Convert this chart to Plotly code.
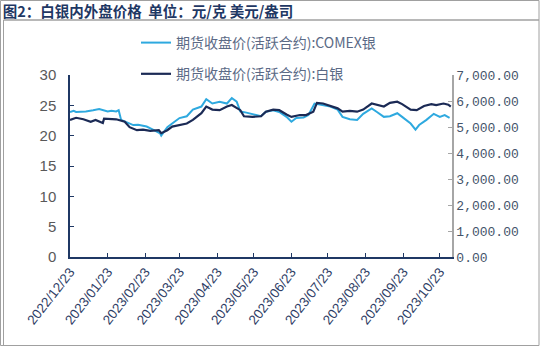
import plotly.graph_objects as go

# COMEX silver (USD/oz) - left axis
comex_dates = ["2022-12-23","2022-12-26","2022-12-28","2023-01-05","2023-01-11","2023-01-16","2023-01-23",
    "2023-01-26","2023-01-30","2023-02-01","2023-02-03","2023-02-07","2023-02-13","2023-02-17","2023-02-24",
    "2023-03-02","2023-03-07","2023-03-08","2023-03-13","2023-03-17","2023-03-23","2023-03-29","2023-04-03",
    "2023-04-10","2023-04-14","2023-04-19","2023-04-25","2023-05-01","2023-05-05","2023-05-09","2023-05-12",
    "2023-05-17","2023-05-22","2023-05-29","2023-06-02","2023-06-08","2023-06-13","2023-06-19","2023-06-23",
    "2023-06-27","2023-07-03","2023-07-07","2023-07-12","2023-07-18","2023-07-25","2023-07-31","2023-08-04",
    "2023-08-10","2023-08-16","2023-08-21","2023-08-28","2023-09-01","2023-09-07","2023-09-12","2023-09-18",
    "2023-09-22","2023-09-29","2023-10-03","2023-10-06","2023-10-12","2023-10-18","2023-10-23","2023-10-27",
    "2023-10-31"]
comex_vals = [23.9,24.1,23.9,24.0,24.2,24.4,24.0,
    24.1,24.0,24.2,22.6,22.3,21.75,21.8,21.5,
    20.9,20.4,20.0,21.4,22.0,22.9,23.2,24.3,
    24.8,26.0,25.3,25.6,25.3,26.2,25.6,24.0,
    23.8,23.5,23.2,23.95,24.2,23.9,23.1,22.3,
    22.9,23.0,23.4,25.3,25.05,24.8,24.3,23.1,
    22.7,22.6,23.6,24.5,23.95,23.1,23.2,23.7,
    23.1,22.0,21.0,21.75,22.6,23.6,23.1,23.4,
    22.95]

# SHFE silver (CNY/kg) - right axis
shfe_dates = ["2022-12-23","2022-12-28","2023-01-03","2023-01-09","2023-01-13","2023-01-19","2023-01-20",
    "2023-01-30","2023-02-06","2023-02-10","2023-02-16","2023-02-21","2023-02-27","2023-03-06","2023-03-08",
    "2023-03-13","2023-03-17","2023-03-23","2023-03-29","2023-04-03","2023-04-10","2023-04-14","2023-04-19",
    "2023-04-25","2023-05-01","2023-05-05","2023-05-12","2023-05-15","2023-05-22","2023-05-29","2023-06-02",
    "2023-06-08","2023-06-13","2023-06-19","2023-06-23","2023-06-30","2023-07-05","2023-07-11","2023-07-14",
    "2023-07-19","2023-07-25","2023-07-31","2023-08-04","2023-08-10","2023-08-16","2023-08-21","2023-08-28",
    "2023-09-01","2023-09-07","2023-09-12","2023-09-18","2023-09-22","2023-09-29","2023-10-04","2023-10-10",
    "2023-10-16","2023-10-20","2023-10-26","2023-10-30","2023-11-01"]
shfe_vals = [5273,5355,5297,5203,5273,5157,5320,
    5297,5203,4993,4877,4900,4853,4877,4760,
    4877,5017,5075,5133,5273,5530,5787,5670,
    5647,5787,5845,5647,5413,5390,5413,5588,
    5670,5647,5483,5390,5460,5460,5588,5927,
    5903,5810,5717,5588,5623,5588,5670,5903,
    5845,5787,5927,5973,5880,5670,5647,5810,
    5880,5845,5903,5857,5787]

names = ["期货收盘价(活跃合约):COMEX银", "期货收盘价(活跃合约):白银"]
x_ticks = ["2022-12-23","2023-01-23","2023-02-23","2023-03-23","2023-04-23","2023-05-23",
           "2023-06-23","2023-07-23","2023-08-23","2023-09-23","2023-10-23"]
x_tick_labels = [d.replace("-", "/") for d in x_ticks]
left_ticks = [0, 5, 10, 15, 20, 25, 30]
right_ticks = [0, 1000, 2000, 3000, 4000, 5000, 6000, 7000]

LIGHT = "#2EA9DF"
DARK = "#1B2A55"

fig = go.Figure()
fig.add_trace(go.Scatter(x=comex_dates, y=comex_vals, name=names[0], mode="lines",
                         line=dict(color=LIGHT, width=2), legendgroup="a"))
fig.add_trace(go.Scatter(x=shfe_dates, y=shfe_vals, name=names[1], mode="lines",
                         line=dict(color=DARK, width=2.2), yaxis="y2", legendgroup="b"))

W, H = 542, 346
L, R, T, B = 70, 452, 75, 257
def px(x): return (x - L) / (R - L)
def py(y): return (B - y) / (B - T)

legfont = dict(family="Noto Sans CJK SC", size=14, color="#5B6A86")
fig.update_layout(
    width=W, height=H,
    margin=dict(l=L, r=W - R, t=T, b=H - B),
    paper_bgcolor="white", plot_bgcolor="white",
    font=dict(family="Liberation Sans", color="#595959"),
    title=dict(text="<b>图2：白银内外盘价格  单位：元/克 美元/盎司</b>",
               x=0.005, xanchor="left", y=1 - 12 / H, yanchor="middle",
               font=dict(family="Noto Sans CJK SC", size=14.5, color="#1F3864")),
    xaxis=dict(type="date", range=["2022-12-23", "2023-11-02"],
               tickvals=x_ticks, ticktext=x_tick_labels, tickangle=-52,
               tickfont=dict(family="Liberation Sans", size=13.5, color="#2F3E66"),
               showgrid=False, zeroline=False, showline=True, linecolor="#1F3864", linewidth=1.5,
               ticks="inside", ticklen=4, tickcolor="#1F3864"),
    yaxis=dict(range=[0, 30], tickvals=left_ticks, showgrid=False, zeroline=False,
               showline=True, linecolor="#1F3864", linewidth=1.5,
               ticks="inside", ticklen=4, tickcolor="#1F3864", ticklabelstandoff=9,
               tickfont=dict(family="Liberation Sans", size=15, color="#595959")),
    yaxis2=dict(range=[0, 7000], tickvals=right_ticks, tickformat=",.2f",
                overlaying="y", side="right", showgrid=False, zeroline=False,
                showline=True, linecolor="#A6A6A6", linewidth=1.5,
                ticks="inside", ticklen=4, tickcolor="#A6A6A6",
                tickfont=dict(family="Liberation Mono", size=13, color="#44546A")),
    legend=dict(x=px(136), y=py(27), xanchor="left", yanchor="top",
                bgcolor="rgba(0,0,0,0)", font=legfont, itemwidth=30,
                traceorder="grouped", tracegroupgap=10),
    shapes=[
        dict(type="rect", xref="paper", yref="paper", x0=px(0.5), x1=px(539), y0=py(0.5), y1=py(345.5),
             line=dict(color="#A0A0A0", width=1)),
        dict(type="line", xref="paper", yref="paper", x0=px(3.5), x1=px(3.5), y0=py(20), y1=py(345.5),
             line=dict(color="#A0A0A0", width=1)),
        dict(type="line", xref="paper", yref="paper", x0=px(3.5), x1=px(539), y0=py(20), y1=py(20),
             line=dict(color="#A0A0A0", width=1.5)),
    ],
)

fig.write_html("out.html")
